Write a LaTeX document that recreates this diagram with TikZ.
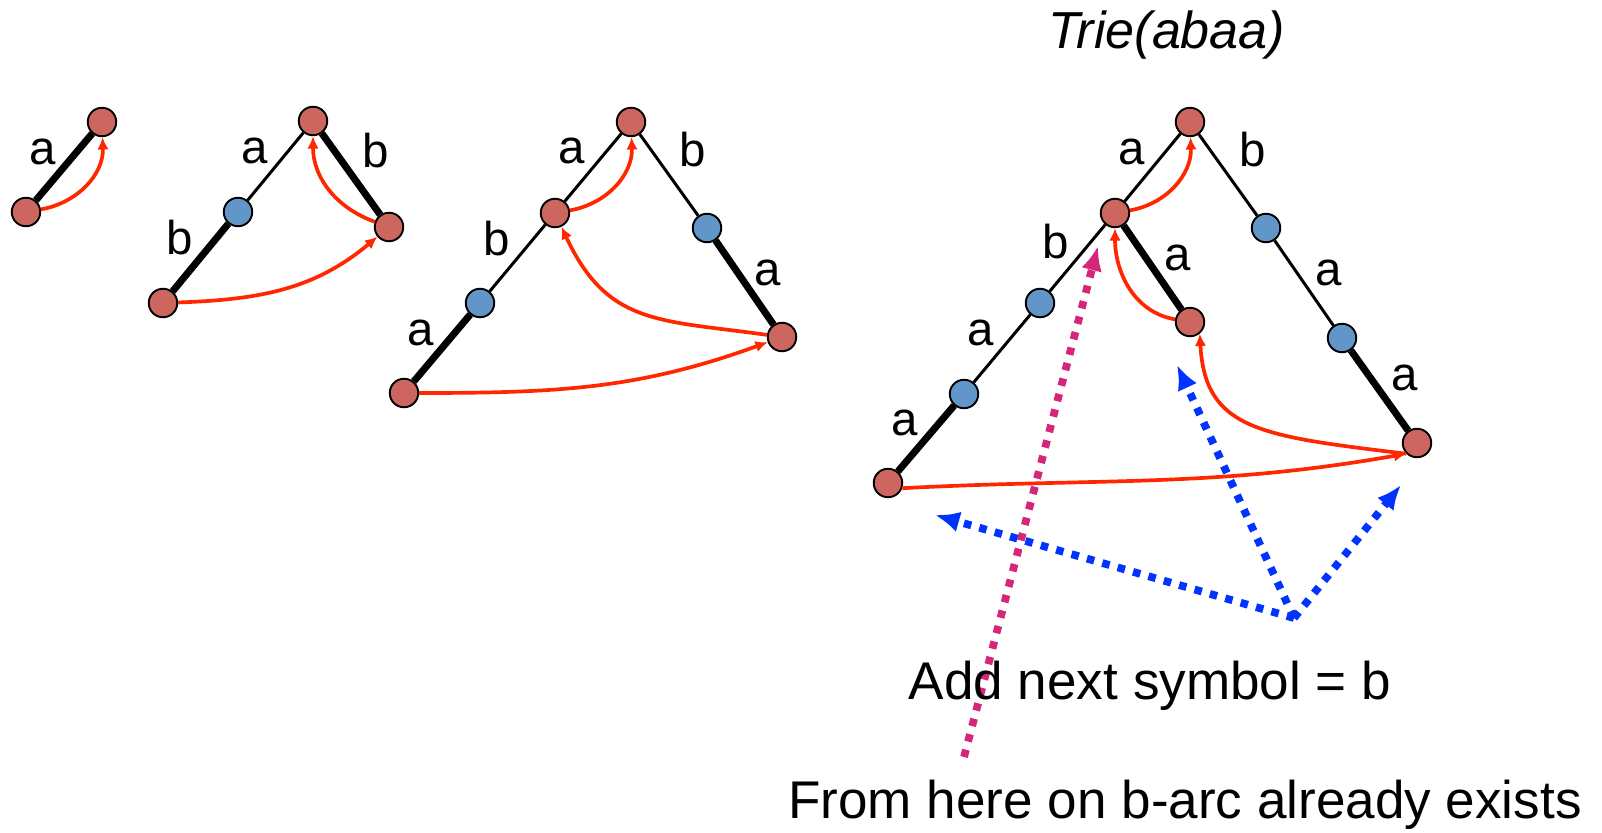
\documentclass[tikz,border=0pt]{standalone}
\usepackage{fontspec}
\setmainfont{Liberation Sans}
\usetikzlibrary{arrows.meta}
\definecolor{nodered}{RGB}{204,102,94}
\definecolor{nodeblue}{RGB}{98,150,201}
\definecolor{linkred}{RGB}{255,38,0}
\definecolor{dotmag}{RGB}{214,38,122}
\definecolor{dotblue}{RGB}{0,51,255}
\begin{document}
\begin{tikzpicture}[
    rnode/.style={circle,draw,line width=1.1pt,fill=nodered,minimum size=0.57cm,inner sep=0pt},
    bnode/.style={rnode,fill=nodeblue},
    arcthin/.style={line width=1.7pt},
    arcthick/.style={line width=4pt},
    sfxlink/.style={draw=linkred,line width=2.1pt,-{Latex[length=7pt,width=6.5pt]}},
    hint/.style={line width=4.4pt,dash pattern=on 4.3pt off 4.8pt,-{Latex[length=14pt,width=12pt]}},
    lbl/.style={font=\fontsize{27}{32}\selectfont,inner sep=0pt},
    caption/.style={anchor=base,inner sep=0pt,font=\fontsize{30.2}{36}\selectfont}]
  \useasboundingbox (0,0) rectangle (32.04,-16.66);
  % Trie(a)
  \node[rnode] (t1r) at (2.04,-2.44) {};
  \node[rnode] (t1a) at (0.52,-4.24) {};
  \draw[arcthick] (t1r) -- (t1a);
  \node[lbl] (l1a) at (0.86,-3.04) {a};
  \draw[sfxlink] (t1a) to[out=10,in=-88] (t1r);
  % Trie(ab)
  \node[rnode] (t2r) at (6.26,-2.42) {};
  \node[bnode] (t2a) at (4.76,-4.24) {};
  \node[rnode] (t2ab) at (3.26,-6.06) {};
  \node[rnode] (t2b) at (7.78,-4.54) {};
  \draw[arcthin] (t2r) -- (t2a);
  \draw[arcthick] (t2a) -- (t2ab);
  \draw[arcthick] (t2r) -- (t2b);
  \node[lbl] (l2a) at (5.10,-3.02) {a};
  \node[lbl] (l2b) at (7.52,-3.02) {b};
  \node[lbl] (l2ab) at (3.60,-4.76) {b};
  \draw[sfxlink] (t2b) to[out=160,in=-90] (t2r);
  \draw[sfxlink] (t2ab) to[out=2,in=-140] (t2b);
  % Trie(aba)
  \node[rnode] (t3r) at (12.62,-2.44) {};
  \node[rnode] (t3a) at (11.10,-4.26) {};
  \node[bnode] (t3ab) at (9.60,-6.06) {};
  \node[rnode] (t3aba) at (8.08,-7.86) {};
  \node[bnode] (t3b) at (14.14,-4.56) {};
  \node[rnode] (t3ba) at (15.64,-6.74) {};
  \draw[arcthin] (t3r) -- (t3a);
  \draw[arcthin] (t3a) -- (t3ab);
  \draw[arcthick] (t3ab) -- (t3aba);
  \draw[arcthin] (t3r) -- (t3b);
  \draw[arcthick] (t3b) -- (t3ba);
  \node[lbl] (l3a) at (11.44,-3.02) {a};
  \node[lbl] (l3b) at (13.86,-3.00) {b};
  \node[lbl] (l3ab) at (9.94,-4.78) {b};
  \node[lbl] (l3aba) at (8.42,-6.66) {a};
  \node[lbl] (l3ba) at (15.36,-5.46) {a};
  \draw[sfxlink] (t3a) to[out=10,in=-88] (t3r);
  \draw[sfxlink] (t3ba) to[out=172,in=-65,looseness=1.2] (t3a);
  \draw[sfxlink] (t3aba) to[out=0,in=-160] (t3ba);
  % Trie(abaa)
  \node[font=\itshape\fontsize{29.6}{35}\selectfont,inner sep=0pt] (title) at (23.34,-0.70) {Trie(abaa)};
  \node[rnode] (t4r) at (23.80,-2.44) {};
  \node[rnode] (t4a) at (22.30,-4.26) {};
  \node[bnode] (t4ab) at (20.80,-6.06) {};
  \node[bnode] (t4aba) at (19.28,-7.88) {};
  \node[rnode] (t4abaa) at (17.76,-9.66) {};
  \node[rnode] (t4aa) at (23.80,-6.44) {};
  \node[bnode] (t4b) at (25.32,-4.56) {};
  \node[bnode] (t4ba) at (26.84,-6.76) {};
  \node[rnode] (t4baa) at (28.34,-8.86) {};
  \draw[arcthin] (t4r) -- (t4a);
  \draw[arcthin] (t4a) -- (t4ab);
  \draw[arcthin] (t4ab) -- (t4aba);
  \draw[arcthick] (t4aba) -- (t4abaa);
  \draw[arcthick] (t4a) -- (t4aa);
  \draw[arcthin] (t4r) -- (t4b);
  \draw[arcthin] (t4b) -- (t4ba);
  \draw[arcthick] (t4ba) -- (t4baa);
  \node[lbl] (l4a) at (22.64,-3.04) {a};
  \node[lbl] (l4b) at (25.06,-3.00) {b};
  \node[lbl] (l4ab) at (21.12,-4.84) {b};
  \node[lbl] (l4aa) at (23.56,-5.16) {a};
  \node[lbl] (l4ba) at (26.58,-5.46) {a};
  \node[lbl] (l4aba) at (19.62,-6.66) {a};
  \node[lbl] (l4baa) at (28.10,-7.56) {a};
  \node[lbl] (l4abaa) at (18.10,-8.46) {a};
  \draw[sfxlink] (t4a) to[out=10,in=-88] (t4r);
  \draw[sfxlink] (t4aa) to[out=170,in=-90] (t4a);
  \draw[sfxlink] (t4baa.225) .. controls (25.20,-8.72) and (24.10,-8.60) .. (t4aa.-50);
  \draw[sfxlink] (t4abaa.-20) to[out=3,in=190] (t4baa.225);
  % hints
  \coordinate (mbase) at (19.28,-15.14);
  \coordinate (mtip) at (21.96,-4.92);
  \draw[hint,dotmag] (mbase) -- (mtip);
  \coordinate (hub) at (25.88,-12.36);
  \coordinate (tipL) at (18.70,-10.30);
  \coordinate (tipU) at (23.54,-7.30);
  \coordinate (tipR) at (28.02,-9.70);
  \draw[hint,dotblue] (hub) -- (tipL);
  \draw[hint,dotblue] (hub) -- (tipU);
  \draw[hint,dotblue] (hub) -- (tipR);
  \node[caption] (addsym) at (23.00,-13.98) {Add next symbol = b};
  \node[caption] (fromhere) at (23.70,-16.36) {From here on b-arc already exists};
\end{tikzpicture}
\end{document}
